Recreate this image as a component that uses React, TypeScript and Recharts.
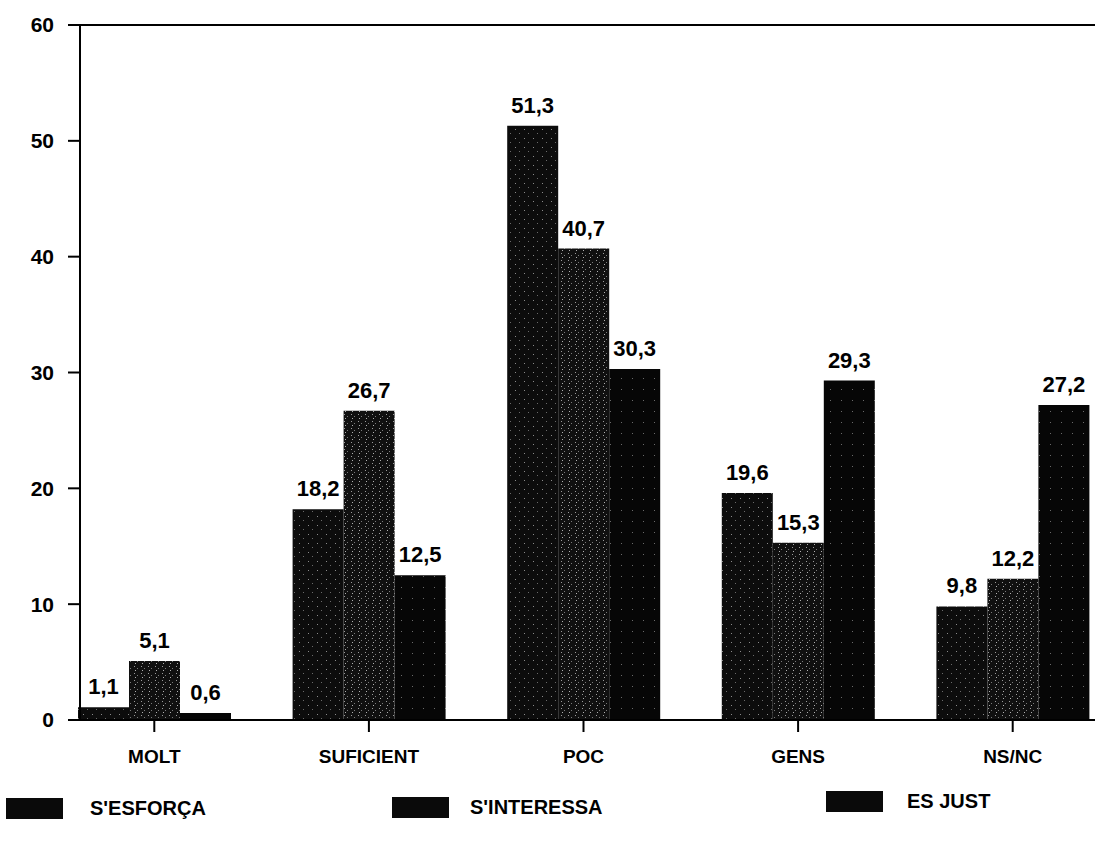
import { BarChart, Bar, XAxis, YAxis, ReferenceLine, LabelList } from "recharts";

const CATEGORIES = ["MOLT", "SUFICIENT", "POC", "GENS", "NS/NC"];
const ESFORCA = [1.1, 18.2, 51.3, 19.6, 9.8];
const INTERESSA = [5.1, 26.7, 40.7, 15.3, 12.2];
const JUST = [0.6, 12.5, 30.3, 29.3, 27.2];
const Y_TICKS = [0, 10, 20, 30, 40, 50, 60];

const SERIES = [
  { key: "esforca", name: "S'ESFORÇA", fill: "url(#speckA)" },
  { key: "interessa", name: "S'INTERESSA", fill: "url(#speckB)" },
  { key: "just", name: "ES JUST", fill: "url(#speckC)" },
];

const FONT = "'Liberation Sans', Arial, Helvetica, sans-serif";

// legend placement
const LEGEND_POS = [
  { swatchX: 6, textX: 90, y: 798 },
  { swatchX: 392, textX: 470, y: 797 },
  { swatchX: 826, textX: 907, y: 791 },
];

const fmt = (v: unknown) => Number(v).toFixed(1).replace(".", ",");

export default function App() {
  const data = CATEGORIES.map((name, i) => ({
    name,
    esforca: ESFORCA[i],
    interessa: INTERESSA[i],
    just: JUST[i],
  }));

  return (
    <div
      style={{
        position: "absolute",
        left: 0,
        top: 0,
        width: 1103,
        height: 847,
        background: "#fff",
        fontFamily: FONT,
      }}
    >
      <BarChart
        width={1103}
        height={847}
        data={data}
        margin={{ top: 25, right: 8, bottom: 87, left: 0 }}
        barGap={0}
        barCategoryGap={31}
        style={{ fontFamily: FONT }}
      >
        <defs>
          <pattern id="speckA" width="9" height="9" patternUnits="userSpaceOnUse">
            <rect width="9" height="9" fill="#0c0c0c" />
            <rect x="2" y="3" width="1" height="1" fill="#8a8a8a" />
            <rect x="6" y="7" width="1" height="1" fill="#6a6a6a" />
          </pattern>
          <pattern id="speckB" width="7" height="7" patternUnits="userSpaceOnUse">
            <rect width="7" height="7" fill="#101010" />
            <rect x="1" y="1" width="1" height="1" fill="#9a9a9a" />
            <rect x="4" y="3" width="1" height="1" fill="#7a7a7a" />
            <rect x="2" y="5" width="1" height="1" fill="#b0b0b0" />
          </pattern>
          <pattern id="speckC" width="11" height="11" patternUnits="userSpaceOnUse">
            <rect width="11" height="11" fill="#060606" />
            <rect x="5" y="4" width="1" height="1" fill="#6a6a6a" />
          </pattern>
        </defs>
        <XAxis
          dataKey="name"
          height={40}
          interval={0}
          padding={{ left: -33, right: -25 }}
          axisLine={{ stroke: "#000", strokeWidth: 2 }}
          tickLine={{ stroke: "#000", strokeWidth: 2 }}
          tickSize={12}
          tickMargin={18}
          tick={{ fill: "#000", fontSize: 19, fontWeight: 700 }}
        />
        <YAxis
          domain={[0, 60]}
          ticks={Y_TICKS}
          width={80}
          axisLine={{ stroke: "#000", strokeWidth: 2 }}
          tickLine={{ stroke: "#000", strokeWidth: 2 }}
          tickSize={12}
          tickMargin={14}
          tick={{ fill: "#000", fontSize: 21, fontWeight: 700 }}
        />
        <YAxis
          yAxisId="frame"
          orientation="right"
          domain={[0, 60]}
          width={0}
          tick={false}
          tickLine={false}
          axisLine={{ stroke: "#000", strokeWidth: 2 }}
        />
        <ReferenceLine y={60} stroke="#000" strokeWidth={2} />
        {SERIES.map((s) => (
          <Bar key={s.key} dataKey={s.key} name={s.name} fill={s.fill} isAnimationActive={false}>
            <LabelList
              dataKey={s.key}
              position="top"
              offset={13}
              formatter={fmt}
              style={{ fill: "#000", fontSize: 22, fontWeight: 700, fontFamily: FONT }}
            />
          </Bar>
        ))}
      </BarChart>

      {SERIES.map((s, i) => (
        <div key={s.key}>
          <div
            style={{
              position: "absolute",
              left: LEGEND_POS[i].swatchX,
              top: LEGEND_POS[i].y,
              width: 57,
              height: 21,
              background: "#0a0a0a",
            }}
          />
          <div
            style={{
              position: "absolute",
              left: LEGEND_POS[i].textX,
              top: LEGEND_POS[i].y - 2,
              fontSize: 20,
              fontWeight: 700,
              lineHeight: "24px",
              color: "#000",
            }}
          >
            {s.name}
          </div>
        </div>
      ))}
    </div>
  );
}
